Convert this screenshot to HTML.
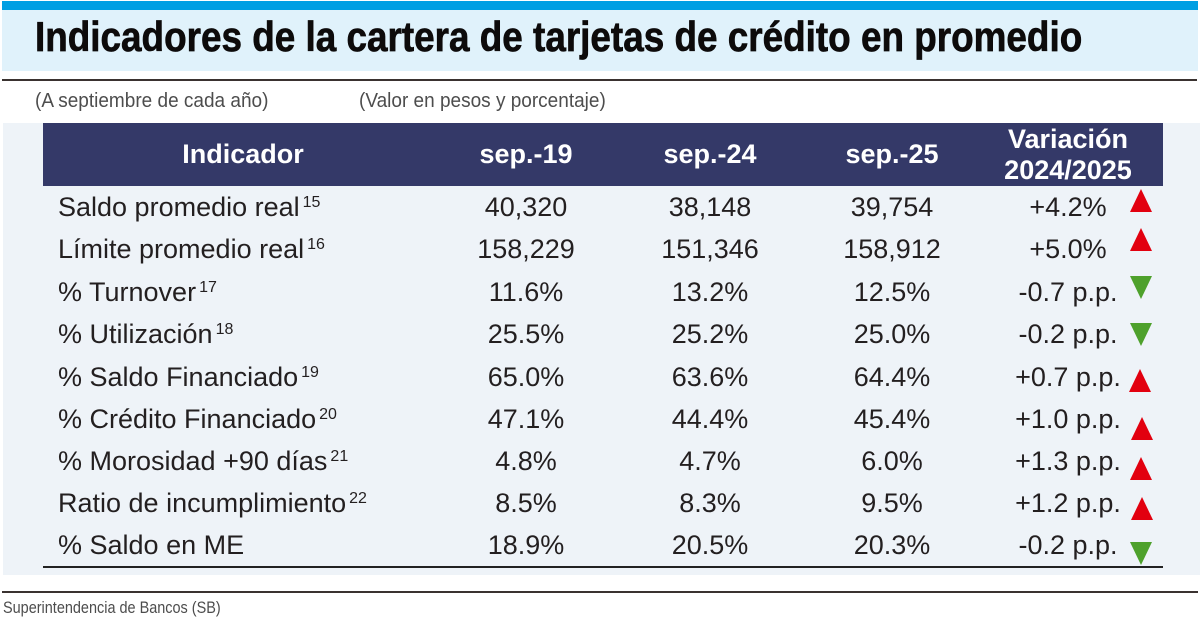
<!DOCTYPE html>
<html>
<head>
<meta charset="utf-8">
<style>
  html,body{margin:0;padding:0;}
  body{width:1200px;height:630px;position:relative;background:#ffffff;overflow:hidden;
       font-family:"Liberation Sans",Arial,sans-serif;color:#231f20;}
  .abs{position:absolute;}
  .t27{font-size:27px;line-height:27px;white-space:nowrap;}
  .c{width:240px;text-align:center;}
  .hdr{color:#ffffff;font-weight:bold;}
  .sp{font-size:16px;position:relative;top:-9px;line-height:0;margin-left:3px;}
  .up{width:0;height:0;border-left:11px solid transparent;border-right:11px solid transparent;border-bottom:23px solid #e2000f;}
  .dn{width:0;height:0;border-left:11px solid transparent;border-right:11px solid transparent;border-top:23px solid #4ea12c;}
</style>
</head>
<body>
  <div class="abs" style="left:2px;top:1px;width:1196px;height:9px;background:#009fe3;"></div>
  <div class="abs" style="left:2px;top:10px;width:1196px;height:61px;background:#e0f2fb;"></div>
  <div class="abs" style="left:35px;top:16px;font-size:42px;line-height:42px;font-weight:bold;color:#0d0b0b;white-space:nowrap;transform:scaleX(0.878);transform-origin:0 0;-webkit-text-stroke:0.7px #0d0b0b;">Indicadores de la cartera de tarjetas de crédito en promedio</div>
  <div class="abs" style="left:2px;top:79px;width:1195px;height:2px;background:#3a3230;"></div>
  <div class="abs" style="left:35px;top:91px;font-size:20px;line-height:20px;color:#4d4d4d;white-space:nowrap;transform:scaleX(0.95);transform-origin:0 0;">(A septiembre de cada año)</div>
  <div class="abs" style="left:359px;top:91px;font-size:20px;line-height:20px;color:#4d4d4d;white-space:nowrap;transform:scaleX(0.95);transform-origin:0 0;">(Valor en pesos y porcentaje)</div>

  <div class="abs" style="left:3px;top:123px;width:1197px;height:452px;background:#eef3f8;"></div>
  <div class="abs" style="left:43px;top:123px;width:1120px;height:63px;background:#343968;"></div>

  <div class="abs t27 c hdr" style="left:123px;top:141px;">Indicador</div>
  <div class="abs t27 c hdr" style="left:406px;top:141px;">sep.-19</div>
  <div class="abs t27 c hdr" style="left:590px;top:141px;">sep.-24</div>
  <div class="abs t27 c hdr" style="left:772px;top:141px;">sep.-25</div>
  <div class="abs t27 c hdr" style="left:948px;top:126px;">Variación</div>
  <div class="abs t27 c hdr" style="left:948px;top:157px;">2024/2025</div>

  <div class="abs t27" style="left:58px;top:194px;">Saldo promedio real<span class="sp">15</span></div>
  <div class="abs t27 c" style="left:406px;top:194px;">40,320</div>
  <div class="abs t27 c" style="left:590px;top:194px;">38,148</div>
  <div class="abs t27 c" style="left:772px;top:194px;">39,754</div>
  <div class="abs t27 c" style="left:948px;top:194px;">+4.2%</div>
  <div class="abs up" style="left:1130px;top:189px;"></div>

  <div class="abs t27" style="left:58px;top:236px;">Límite promedio real<span class="sp">16</span></div>
  <div class="abs t27 c" style="left:406px;top:236px;">158,229</div>
  <div class="abs t27 c" style="left:590px;top:236px;">151,346</div>
  <div class="abs t27 c" style="left:772px;top:236px;">158,912</div>
  <div class="abs t27 c" style="left:948px;top:236px;">+5.0%</div>
  <div class="abs up" style="left:1130px;top:228px;"></div>

  <div class="abs t27" style="left:58px;top:279px;">% Turnover<span class="sp">17</span></div>
  <div class="abs t27 c" style="left:406px;top:279px;">11.6%</div>
  <div class="abs t27 c" style="left:590px;top:279px;">13.2%</div>
  <div class="abs t27 c" style="left:772px;top:279px;">12.5%</div>
  <div class="abs t27 c" style="left:948px;top:279px;">-0.7 p.p.</div>
  <div class="abs dn" style="left:1130px;top:276px;"></div>

  <div class="abs t27" style="left:58px;top:321px;">% Utilización<span class="sp">18</span></div>
  <div class="abs t27 c" style="left:406px;top:321px;">25.5%</div>
  <div class="abs t27 c" style="left:590px;top:321px;">25.2%</div>
  <div class="abs t27 c" style="left:772px;top:321px;">25.0%</div>
  <div class="abs t27 c" style="left:948px;top:321px;">-0.2 p.p.</div>
  <div class="abs dn" style="left:1130px;top:323px;"></div>

  <div class="abs t27" style="left:58px;top:364px;">% Saldo Financiado<span class="sp">19</span></div>
  <div class="abs t27 c" style="left:406px;top:364px;">65.0%</div>
  <div class="abs t27 c" style="left:590px;top:364px;">63.6%</div>
  <div class="abs t27 c" style="left:772px;top:364px;">64.4%</div>
  <div class="abs t27 c" style="left:948px;top:364px;">+0.7 p.p.</div>
  <div class="abs up" style="left:1129px;top:369px;"></div>

  <div class="abs t27" style="left:58px;top:406px;">% Crédito Financiado<span class="sp">20</span></div>
  <div class="abs t27 c" style="left:406px;top:406px;">47.1%</div>
  <div class="abs t27 c" style="left:590px;top:406px;">44.4%</div>
  <div class="abs t27 c" style="left:772px;top:406px;">45.4%</div>
  <div class="abs t27 c" style="left:948px;top:406px;">+1.0 p.p.</div>
  <div class="abs up" style="left:1131px;top:417px;"></div>

  <div class="abs t27" style="left:58px;top:448px;">% Morosidad +90 días<span class="sp">21</span></div>
  <div class="abs t27 c" style="left:406px;top:448px;">4.8%</div>
  <div class="abs t27 c" style="left:590px;top:448px;">4.7%</div>
  <div class="abs t27 c" style="left:772px;top:448px;">6.0%</div>
  <div class="abs t27 c" style="left:948px;top:448px;">+1.3 p.p.</div>
  <div class="abs up" style="left:1130px;top:457px;"></div>

  <div class="abs t27" style="left:58px;top:490px;">Ratio de incumplimiento<span class="sp">22</span></div>
  <div class="abs t27 c" style="left:406px;top:490px;">8.5%</div>
  <div class="abs t27 c" style="left:590px;top:490px;">8.3%</div>
  <div class="abs t27 c" style="left:772px;top:490px;">9.5%</div>
  <div class="abs t27 c" style="left:948px;top:490px;">+1.2 p.p.</div>
  <div class="abs up" style="left:1131px;top:497px;"></div>

  <div class="abs t27" style="left:58px;top:532px;">% Saldo en ME</div>
  <div class="abs t27 c" style="left:406px;top:532px;">18.9%</div>
  <div class="abs t27 c" style="left:590px;top:532px;">20.5%</div>
  <div class="abs t27 c" style="left:772px;top:532px;">20.3%</div>
  <div class="abs t27 c" style="left:948px;top:532px;">-0.2 p.p.</div>
  <div class="abs dn" style="left:1130px;top:542px;"></div>

  <div class="abs" style="left:43px;top:566px;width:1120px;height:2px;background:#222;"></div>

  <div class="abs" style="left:2px;top:591px;width:1196px;height:2px;background:#3a3230;"></div>
  <div class="abs" style="left:3px;top:599px;font-size:17px;line-height:17px;color:#4d4d4d;white-space:nowrap;transform:scaleX(0.85);transform-origin:0 0;">Superintendencia de Bancos (SB)</div>
</body>
</html>
